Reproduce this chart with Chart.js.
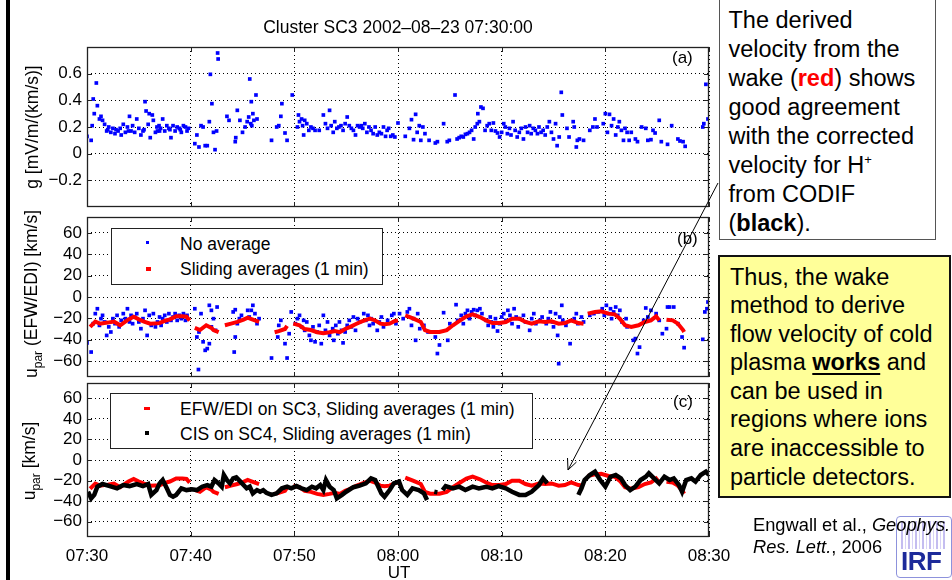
<!DOCTYPE html>
<html>
<head>
<meta charset="utf-8">
<script src="https://cdn.jsdelivr.net/npm/chart.js@4.4.1/dist/chart.umd.min.js"></script>
<style>
  body { margin: 0; background: #fff; }
  #page { position: relative; width: 952px; height: 580px; overflow: hidden; background: #fff;
          font-family: "Liberation Sans", Arial, sans-serif; color: #000; }
  #page div, #page canvas, #page svg { position: absolute; }
  .plotTxt { font-size: 17px; line-height: 20px; white-space: nowrap; }
  .ytitle { font-size: 17.5px; line-height: 20px; white-space: nowrap; transform: translate(-50%, -50%) rotate(-90deg); }
  .ytitle sub { font-size: 12px; vertical-align: -5px; line-height: 0; }
  .legend { background: #fff; border: 1px solid #222; box-sizing: border-box; }
  .mark { width: 4px; height: 4px; }
  .note { font-size: 23.5px; box-sizing: border-box; }
</style>
</head>
<body>
<div id="page">
  <canvas id="panelA" width="740" height="192" style="left:0;top:31px"></canvas>
  <canvas id="panelB" width="740" height="192" style="left:0;top:201px"></canvas>
  <canvas id="panelC" width="740" height="213" style="left:0;top:367px"></canvas>

  <div style="left:6px;top:0;width:4px;height:580px;background:#000"></div>

  <div class="plotTxt" style="left:87px;width:622px;top:17px;text-align:center;font-size:17.5px">Cluster SC3 2002&ndash;08&ndash;23 07:30:00</div>

  <div class="ytitle" style="left:32px;top:127px">g [mV/m/(km/s)]</div>
  <div class="ytitle" style="left:31px;top:294px">u<sub>par</sub> (EFW/EDI) [km/s]</div>
  <div class="ytitle" style="left:29px;top:461px">u<sub>par</sub> [km/s]</div>

  <div class="plotTxt" style="left:672px;top:48px">(a)</div>
  <div class="plotTxt" style="left:677px;top:229px">(b)</div>
  <div class="plotTxt" style="left:673px;top:392px">(c)</div>

  <div class="legend" style="left:111px;top:228px;width:272px;height:57px"></div>
  <div class="mark" style="left:146px;top:241px;background:#0000ff;width:3px;height:3px"></div>
  <div class="plotTxt" style="left:180px;top:234px;font-size:17.5px">No average</div>
  <div class="mark" style="left:146px;top:267px;background:#ff0000;width:5px"></div>
  <div class="plotTxt" style="left:180px;top:259px;font-size:17.5px">Sliding averages (1 min)</div>

  <div class="legend" style="left:110px;top:393px;width:423px;height:56px"></div>
  <div class="mark" style="left:144px;top:407px;background:#ff0000;width:6px;height:3px"></div>
  <div class="plotTxt" style="left:180px;top:399px;font-size:17.5px">EFW/EDI on SC3, Sliding averages (1 min)</div>
  <div class="mark" style="left:145px;top:431px;background:#000"></div>
  <div class="plotTxt" style="left:180px;top:424px;font-size:17.5px">CIS on SC4, Sliding averages (1 min)</div>

  <div class="plotTxt" style="left:369px;width:60px;top:563px;text-align:center">UT</div>

  <svg width="952" height="580" style="left:0;top:0">
    <line x1="718" y1="183" x2="568" y2="470" stroke="#000" stroke-width="1"/>
    <polyline points="567.5,458 568,470 576.5,462" fill="none" stroke="#000" stroke-width="1"/>
  </svg>

  <div class="note" style="left:719px;top:-3px;width:217px;height:243px;border:1.5px solid #555;background:#fff;padding:8px 0 0 8.5px;line-height:29px">
    The derived<br>velocity from the<br>wake (<b style="color:#ff0000">red</b>) shows<br>good agreement<br>with the corrected<br>velocity for H<sup style="font-size:13px;line-height:0">+</sup><br>from CODIF<br>(<b>black</b>).
  </div>

  <div class="note" style="left:718px;top:255px;width:233px;height:243px;border:2px solid #111;background:#ffff99;padding:5.5px 0 0 10px;line-height:28.6px">
    Thus, the wake<br>method to derive<br>flow velocity of cold<br>plasma <b style="text-decoration:underline;text-underline-offset:3px">works</b> and<br>can be used in<br>regions where ions<br>are inaccessible to<br>particle detectors.
  </div>

  <div style="left:896px;top:516px;width:56px;height:62px;box-sizing:border-box;border:1.5px solid #8d92dc;border-radius:4px;background:#fff;overflow:hidden">
    <div style="left:4px;top:4px;width:46px;height:28px;background:repeating-linear-gradient(90deg,#c4bdf0 0 2px,#fff 2px 4px,#d8d2f6 4px 5px,#fff 5px 7px)"></div>
    <div style="left:4px;top:30px;font-weight:bold;font-size:26px;line-height:28px;color:#1c2a9a;letter-spacing:-0.5px">IRF</div>
  </div>

  <div style="left:753px;top:514px;font-size:18.3px;line-height:22px;white-space:nowrap">Engwall et al., <i>Geophys.</i><br><i>Res. Lett.</i>, 2006</div>
</div>

<script>
// panel (a): g, minutes after 07:30
const gPoints = [
  [0, .13], [0.4, .10], [0.5, .21], [0.6, .41], [0.7, .30], [0.9, .53], [1.0, .36], [1.2, .26], [1.35, .28], [1.5, .25],
  [1.7, .22], [1.9, .17], [2.0, .18], [2.1, .20], [2.3, .16], [2.5, .19], [2.7, .15], [2.8, .18], [3.0, .17], [3.2, .19],
  [3.3, .14], [3.5, .22], [3.7, .16], [3.9, .20], [4.0, .17], [4.1, .28], [4.25, .17], [4.4, .21], [4.6, .16], [4.8, .26],
  [5.0, .19], [5.2, .14], [5.4, .17], [5.5, .18], [5.6, .39], [5.7, .32], [5.9, .22], [6.0, .30], [6.1, .12], [6.3, .29],
  [6.4, .25], [6.6, .16], [6.75, .20], [6.8, .17], [6.95, .21], [7.0, .17], [7.1, .19], [7.3, .26], [7.5, .17], [7.7, .21],
  [7.9, .19], [8.0, .18], [8.1, .12], [8.3, .21], [8.5, .17], [8.7, .20], [8.9, .19], [9.0, .18], [9.1, .16], [9.3, .21],
  [9.5, .20], [9.65, .17], [9.8, .19],
  [10.4, .075], [10.6, .14], [10.8, .05], [11.0, .21], [11.2, .20], [11.4, .06], [11.6, .06], [11.8, .24], [11.9, .595], [12.05, .375],
  [12.2, .16], [12.35, .03], [12.5, .17], [12.6, .755], [12.65, .71], [13.5, .28], [13.7, .25], [14.3, .09], [14.35, .12], [14.5, .325],
  [14.75, .25], [15.0, .16], [15.25, .20], [15.45, .24], [15.6, .275], [15.7, .56], [15.8, .225], [15.85, .39], [15.9, .21], [16.0, .30],
  [16.1, .25], [16.3, .44], [16.4, .26], [17.8, .10], [18.3, .20], [18.5, .21], [18.7, .28], [18.8, .375], [19.1, .155], [19.3, .10],
  [19.8, .44],
  [20.3, .20], [20.4, .29], [20.5, .24], [20.7, .26], [20.8, .21], [20.9, .14], [21.0, .25], [21.2, .225], [21.4, .175], [21.6, .20],
  [21.8, .19], [22.0, .175], [22.4, .175], [22.8, .29], [23.0, .225], [23.2, .19], [23.4, .325], [23.55, .21], [23.75, .16], [23.9, .24],
  [24.1, .19], [24.3, .20], [24.5, .21], [24.7, .175], [24.9, .225], [25.1, .275], [25.3, .21], [25.5, .19], [25.7, .175], [25.9, .14],
  [26.1, .21], [26.3, .20], [26.45, .21], [26.6, .19], [26.8, .225], [27.0, .16], [27.2, .20], [27.4, .175], [27.6, .15], [27.8, .20],
  [28.0, .14], [28.2, .16], [28.4, .15], [28.6, .20], [28.8, .13], [28.95, .175], [29.1, .19], [29.3, .13], [29.5, .14], [29.7, .125],
  [30.0, .23],
  [30.7, .13], [31.1, .19], [31.3, .255], [31.5, .105], [31.7, .295], [31.85, .16], [32.05, .21], [32.2, .10], [32.4, .20], [32.6, .15],
  [33.0, .10], [33.6, .08], [33.8, .09], [34.4, .225], [34.75, .09], [34.95, .10], [35.5, .44], [35.7, .11], [35.9, .12], [36.1, .13],
  [36.3, .125], [36.5, .145], [36.7, .15], [36.9, .16], [37.1, .175], [37.3, .11], [37.45, .20], [37.65, .225], [37.7, .30], [37.85, .24],
  [38.0, .35], [38.2, .34], [38.4, .175], [38.6, .21], [38.8, .225], [39.0, .175], [39.2, .23], [39.4, .17], [39.6, .155], [39.8, .125],
  [40.0, .16], [40.2, .225], [40.35, .20], [40.55, .15], [40.75, .19], [40.9, .14], [41.1, .24], [41.3, .175], [41.5, .125], [41.7, .16],
  [41.9, .19], [42.1, .11], [42.3, .20], [42.5, .16], [42.7, .21], [42.85, .15], [43.05, .19], [43.25, .175], [43.45, .15], [43.6, .20],
  [43.8, .16], [44.0, .175], [44.2, .14], [44.4, .20], [44.6, .24], [44.8, .16], [45.0, .11], [45.2, .225], [45.35, .06], [45.55, .125],
  [45.75, .46], [45.85, .29], [46.3, .19], [46.5, .125], [46.9, .24], [47.0, .20], [47.2, .05], [47.3, .10], [47.5, .11], [47.9, .10],
  [48.5, .175], [48.8, .20], [49.0, .26], [49.2, .20],
  [49.8, .225], [50.0, .30], [50.2, .16], [50.4, .295], [50.6, .21], [50.8, .26], [51.0, .14], [51.2, .20], [51.35, .24], [51.55, .175],
  [51.75, .10], [51.9, .19], [52.1, .16], [52.3, .10], [52.5, .16], [52.9, .11], [53.1, .09], [53.5, .20], [53.9, .19], [54.1, .10],
  [54.4, .105], [54.6, .175], [54.8, .155], [55.2, .25], [55.4, .09], [56.0, .07], [56.4, .21], [57.0, .11], [57.2, .095], [57.5, .09],
  [57.7, .055], [59.4, .20], [59.5, .225], [59.7, .52], [59.9, .26]
];

// panel (b): u_par from EFW/EDI, no averaging
const uRawPoints = [
  [0, -43], [0.4, -51.6], [0.6, -25], [0.8, -15.6], [1.0, -11], [1.2, -26.6], [1.35, -20.3], [1.5, -17.2], [1.7, -23.4], [1.9, -36],
  [2.1, -28], [2.3, -32.8], [2.5, -20.3], [2.7, -25], [2.9, -17.2], [3.1, -28], [3.3, -21.9], [3.5, -15.6], [3.7, -20.3], [3.9, -11],
  [4.1, -23.4], [4.25, -17.2], [4.4, -25], [4.6, -18.75], [4.8, -15.6], [5.0, -23.4], [5.2, -29.7], [5.4, -20.3], [5.6, -12.5], [5.8, -36],
  [6.0, -17.2], [6.2, -26.6], [6.4, -15.6], [6.6, -28], [6.8, -23.4], [7.0, -18.75], [7.15, -26.6], [7.3, -20.3], [7.5, -17.2], [7.7, -23.4],
  [7.9, -15.6], [8.1, -21.9], [8.3, -18.75], [8.5, -15.6], [8.7, -21.9], [8.9, -17.2], [9.1, -20.3], [9.3, -15.6], [9.5, -21.9], [9.65, -17.2],
  [10.4, -11], [10.6, -37.5], [10.75, -68], [10.8, -32.8], [11.0, -15.6], [11.2, -42], [11.4, -50], [11.6, -48.4], [11.8, -7.8], [11.8, -43.75],
  [12.0, -12.5], [12.0, -28], [12.2, -20.3], [12.4, -31.25], [12.55, -9.4], [14.1, -14], [14.2, -51.6], [14.3, -11.9], [14.3, -37.5], [14.5, -25],
  [14.7, -20.3], [14.9, -17.2], [15.5, -12.5], [15.65, -18.75], [15.85, -12.5], [16.0, -7.8], [16.2, -15.6], [16.4, -25], [16.6, -20.3], [17.8, -57.2],
  [18.4, -37.5], [18.5, -26.6], [18.7, -21.9], [19.1, -43.75], [19.3, -57.2], [19.5, -34.4], [19.7, -14],
  [20.1, -25], [20.3, -20.3], [20.5, -17.2], [20.7, -28], [20.9, -21.9], [21.0, -31.25], [21.2, -23.4], [21.45, -36], [21.6, -40.6], [21.8, -28],
  [22.0, -42], [22.2, -32.8], [22.4, -26.6], [22.6, -43.75], [22.8, -17.2], [23.0, -31.25], [23.2, -23.4], [23.4, -36], [23.7, -29.7], [23.8, -40.6],
  [24.0, -26.6], [24.2, -34.4], [24.35, -23.4], [24.55, -31.25], [24.7, -43], [24.9, -32.8], [25.1, -26.6], [25.3, -21.9], [25.5, -28], [25.7, -18.75],
  [25.9, -31.25], [26.1, -20.3], [26.3, -23.4], [26.7, -15.6], [26.9, -21.9], [27.1, -17.2], [27.25, -26.6], [27.4, -20.3], [27.6, -25], [28.0, -31.25],
  [28.2, -23.4], [28.4, -18.75], [28.6, -28], [29.0, -21.9], [29.4, -17.2], [29.6, -15.6], [29.8, -25],
  [30.15, -15.6], [30.5, -20.3], [30.9, -14], [31.1, -11], [31.3, -26.6], [31.5, -20.3], [31.7, -40.6], [31.9, -15.6], [32.1, -29.7], [32.5, -26.6],
  [32.9, -32.8], [33.6, -37.5], [33.8, -53], [34.0, -45], [34.4, -14.7], [34.8, -40.6], [35.0, -25], [35.6, -7.2], [35.75, -21.9], [36.1, -17.2],
  [36.3, -25], [36.5, -15.6], [36.7, -12.5], [36.9, -20.3], [37.1, -14], [37.3, -11.9], [37.45, -17.2], [37.65, -12.5], [37.9, -11], [38.1, -15.6],
  [38.5, -21.9], [38.7, -26.6], [38.9, -18.75], [39.0, -23.4], [39.2, -28], [39.4, -20.3], [39.6, -31.9], [39.8, -25],
  [40.0, -18.75], [40.2, -15.6], [40.4, -21.9], [40.6, -12.5], [40.8, -17.2], [41.0, -25], [41.2, -11], [41.4, -18.75], [41.6, -28], [41.75, -20.3],
  [42.1, -17.2], [42.3, -23.4], [42.7, -31.25], [42.9, -20.3], [43.1, -15.6], [43.3, -25], [43.7, -21.9], [43.9, -18.75], [44.3, -25], [44.5, -20.3],
  [44.7, -14], [44.9, -23.4], [45.0, -28], [45.2, -15.6], [45.4, -36], [45.5, -62.5], [45.6, -18.75], [45.8, -7.8], [45.9, -21.9], [46.2, -26.6],
  [46.6, -43.75], [47.0, -20.3], [47.2, -15.6], [47.35, -25], [47.7, -18.75], [47.9, -23.4],
  [48.5, -17.2], [48.9, -15.6], [49.3, -14], [49.7, -11], [49.9, -17.2], [50.1, -7.8], [50.3, -15.6], [50.5, -11], [50.6, -20.3], [50.8, -14],
  [51.0, -9.4], [51.2, -17.2], [51.4, -12.5], [51.6, -23.4], [52.0, -20.3], [52.1, -28], [52.7, -40.6], [52.9, -39], [53.1, -53], [53.3, -47],
  [53.7, -21.9], [53.9, -10.3], [54.1, -18.75], [54.4, -12.5], [54.9, -15.6], [55.2, -21.9], [55.5, -34.4], [55.9, -29.7], [56.0, -9.4], [56.2, -9.4],
  [56.6, -9.4], [57.0, -25], [57.4, -37.5], [57.6, -47.5], [59.4, -39.7], [59.6, -14], [59.8, -11], [59.9, -4.7]
];

// EFW/EDI on SC3, 1 min sliding average (null = data gap)
const uAvgPoints = [
  [0.3, -28], [0.8, -23], [1.25, -25], [2.0, -24], [2.6, -23], [3.2, -26.5], [4.0, -21], [4.5, -18.5], [5.0, -21], [5.5, -23],
  [6.1, -25], [7.0, -24.5], [7.6, -22], [8.0, -21], [8.6, -18], [9.2, -18], [9.6, -18.5], [9.9, -22], [10.1, null],
  [10.4, -29], [10.9, -31], [11.5, -26.5], [12.0, -29], [12.2, -31], [12.7, -33], [13.0, null],
  [13.3, -26.5], [13.9, -25], [14.5, -23.4], [15.1, -21.25], [15.5, -19.4], [15.8, -20.5], [16.2, -22], [16.6, -23.4], [17.5, null],
  [18.1, -33], [18.5, -32], [19.1, -30], [19.3, -27], [19.6, null],
  [19.9, -25], [20.5, -26.5], [21.0, -30], [21.6, -31], [22.2, -33], [22.8, -34], [23.4, -33], [23.9, -32], [24.4, -33], [24.9, -30],
  [25.4, -28], [25.9, -25.5], [26.4, -23.4], [26.9, -21.5], [27.3, -20.3], [27.8, -22], [28.3, -25], [28.7, -25.5], [29.2, -25], [29.7, -22.5],
  [30.0, -21.9], [30.3, null],
  [30.7, -17.2], [31.5, -20.3], [32.2, -23.4], [32.6, -31], [33.1, -32.8], [34.0, -32.8], [34.7, -31], [35.3, -26.5], [36.0, -21.9], [36.6, -18.1],
  [37.2, -16.25], [37.9, -18.75], [38.5, -21.9], [39.1, -24.4], [39.8, -24.4], [40.4, -23.4], [41.0, -20.3], [41.7, -20.3], [42.3, -23.4], [42.9, -25],
  [43.6, -22.8], [44.2, -23.4], [44.8, -22.8], [45.5, -25], [46.1, -24.4], [46.7, -21.9], [47.4, -24.4], [47.9, -25], [48.1, null],
  [48.3, -15.6], [49.0, -14], [49.6, -13.4], [50.3, -15.6], [50.9, -16.25], [51.4, -20.3], [51.9, -26.5], [52.5, -28], [53.2, -26.5], [53.8, -23.4],
  [54.4, -21.9], [54.9, -18.1], [55.2, -21.9], [55.5, null],
  [55.9, -21.25], [56.5, -21.9], [57.0, -25], [57.5, -31], [57.6, -32.8]
];

// CIS on SC4, 1 min sliding average
const cisPoints = [
  [0.1, -30.9], [0.4, -37.4], [0.7, -34], [1.0, -26], [1.5, -23.4], [2.2, -25.4], [2.9, -27.6], [3.5, -24.4], [4.1, -25.4], [4.8, -23.4],
  [5.4, -25.4], [5.9, -23.4], [6.2, -34], [6.7, -29.3], [7.0, -22.8], [7.3, -19.5], [7.7, -27.6], [8.0, -34], [8.3, -35.8], [8.6, -34],
  [9.1, -27.6], [9.6, -29.3], [10.1, -28.6], [10.6, -29.3], [11.1, -26], [11.6, -24.4], [12.0, -26], [12.3, -19.5], [12.7, -22.8], [13.0, -26],
  [13.2, -14.6], [13.5, -19.5], [13.8, -22.8], [14.1, -17.9], [14.4, -16.9], [14.8, -21.1], [15.1, -24.4], [15.4, -27.6], [15.7, -26], [16.0, -32.5],
  [16.4, -29.3], [16.7, -30.9], [17.0, -29.3], [17.3, -31.9], [17.8, -34], [18.3, -32.5], [18.8, -27.6], [19.3, -26], [19.7, -27.6], [20.2, -25.4],
  [20.7, -27.6], [21.2, -29.3], [21.7, -26], [22.1, -27.6], [22.5, -24.4], [22.8, -29.3], [23.05, -19.5], [23.4, -26], [23.8, -29.3], [24.1, -37.4],
  [24.6, -34], [25.0, -30.9], [25.7, -26.5], [26.3, -25], [26.9, -22.8], [27.4, -17.9], [27.8, -19.5], [28.1, -26], [28.4, -32.5], [28.7, -35.8],
  [29.2, -29.3], [29.6, -22.8], [30.1, -21.1], [30.4, -29.3], [30.9, -34], [31.4, -27.6], [32.0, -29.3], [32.5, -32.5], [32.8, -39], [33.1, null],
  [33.5, -30.9], [33.8, -31.5], [34.0, null], [34.3, -29.3], [34.6, -25.4], [35.3, -27.6], [35.9, -26], [36.5, -29.3], [37.2, -26], [37.8, -27.6],
  [38.5, -26], [39.1, -27.6], [39.7, -25.4], [40.4, -27.6], [41.0, -30.9], [41.7, -34], [42.3, -34], [42.9, -30.9], [43.6, -24.4], [44.0, -17.9],
  [44.4, -22.8], [44.6, null],
  [47.4, -34], [47.7, -27.6], [48.0, -19.5], [48.5, -14.6], [49.0, -11.4], [49.5, -19.5], [50.0, -26], [50.5, -16.3], [51.0, -14.6], [51.5, -17.9],
  [51.9, -24.4], [52.4, -29.3], [52.9, -26], [53.4, -19.5], [53.9, -16.3], [54.2, -13], [54.7, -17.9], [55.2, -22.8], [55.7, -16.3], [56.2, -19.5],
  [56.6, -17.9], [57.1, -24.4], [57.4, -30.9], [57.8, -19.5], [58.3, -17.9], [58.7, -21.1], [59.2, -14.6], [59.7, -11.4], [60, -14.6]
];

const gTicks = [-0.2, 0, 0.2, 0.4, 0.6];
const uTicks = [-60, -40, -20, 0, 20, 40, 60];
const timeTicks = [0, 10, 20, 30, 40, 50, 60];
const timeLabels = ['07:30', '07:40', '07:50', '08:00', '08:10', '08:20', '08:30'];

Chart.defaults.font.family = '"Liberation Sans", Arial, sans-serif';
Chart.defaults.font.size = 17;
Chart.defaults.color = '#000';

const xy = list => list.map(p => ({x: p[0], y: p[1]}));
const minus = v => (v < 0 ? '\u2212' : '') + Math.abs(v);

// axes box with matlab style inward tick marks
const boxPlugin = {
  id: 'axesBox',
  afterDraw(chart) {
    const {ctx, chartArea: a, scales} = chart;
    ctx.save();
    ctx.strokeStyle = '#222';
    ctx.lineWidth = 1;
    ctx.beginPath();
    scales.y.ticks.forEach(t => {
      const y = Math.round(scales.y.getPixelForValue(t.value)) + 0.5;
      ctx.moveTo(a.left, y); ctx.lineTo(a.left + 5, y);
      ctx.moveTo(a.right, y); ctx.lineTo(a.right - 5, y);
    });
    scales.x.ticks.forEach(t => {
      const x = Math.round(scales.x.getPixelForValue(t.value)) + 0.5;
      ctx.moveTo(x, a.top); ctx.lineTo(x, a.top + 5);
      ctx.moveTo(x, a.bottom); ctx.lineTo(x, a.bottom - 5);
    });
    ctx.stroke();
    ctx.lineWidth = 1.3;
    ctx.strokeRect(Math.round(a.left) + 0.5, Math.round(a.top) + 0.5, Math.round(a.width) - 1, Math.round(a.height) - 1);
    ctx.restore();
  }
};

function xScale(showLabels) {
  return {
    type: 'linear', min: 0, max: 60,
    afterBuildTicks: s => { s.ticks = timeTicks.map(v => ({value: v})); },
    afterFit: s => { s.height = showLabels ? 43 : 0; },
    ticks: { display: showLabels, padding: 9, maxRotation: 0, autoSkip: false,
             callback: v => timeLabels[timeTicks.indexOf(v)] },
    grid: { color: '#000', lineWidth: 1, drawTicks: false },
    border: { display: false, dash: [1, 3] }
  };
}

function yScale(min, max, ticks) {
  return {
    min, max,
    afterBuildTicks: s => { s.ticks = ticks.map(v => ({value: v})); },
    afterFit: s => { s.width = 87; },
    ticks: { padding: 5, callback: v => minus(v) },
    grid: { color: '#000', lineWidth: 1, drawTicks: false },
    border: { display: false, dash: [1, 3] }
  };
}

function makePanel(id, datasets, y, showX) {
  return new Chart(document.getElementById(id), {
    type: 'scatter',
    data: { datasets },
    options: {
      responsive: false, animation: false, events: [],
      layout: { padding: { top: 16, right: 31, bottom: showX ? 0 : 16, left: 0 } },
      plugins: { legend: { display: false }, tooltip: { enabled: false } },
      scales: { x: xScale(showX), y }
    },
    plugins: [boxPlugin]
  });
}

const dots = (list, color) => ({
  data: xy(list), showLine: false, pointStyle: 'rect', pointRadius: 2.6,
  pointBorderWidth: 0, pointBackgroundColor: color
});
const trace = (list, color, width) => ({
  data: xy(list), showLine: true, spanGaps: false, borderColor: color,
  borderWidth: width, pointRadius: 0, borderCapStyle: 'butt', borderJoinStyle: 'miter'
});

makePanel('panelA', [dots(gPoints, '#0000ff')], yScale(-0.4, 0.8, gTicks), false);
makePanel('panelB', [trace(uAvgPoints, '#ff0000', 4), dots(uRawPoints, '#0000ff')], yScale(-75, 75, uTicks), false);
makePanel('panelC', [trace(cisPoints, '#000000', 4.5), trace(uAvgPoints, '#ff0000', 4)], yScale(-75, 75, uTicks), true);
</script>
</body>
</html>
